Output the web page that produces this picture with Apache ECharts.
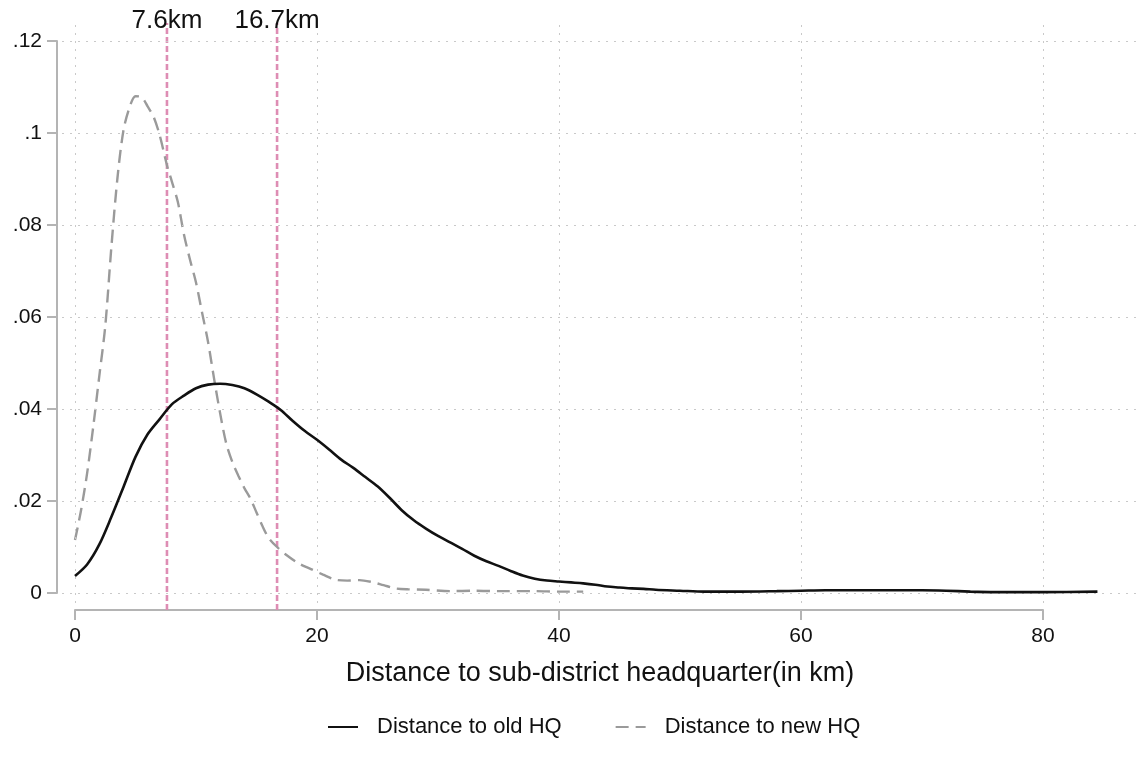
<!DOCTYPE html>
<html><head><meta charset="utf-8">
<script src="https://cdn.jsdelivr.net/npm/echarts@6/dist/echarts.min.js"></script>
<style>html,body{margin:0;padding:0;background:#fff}#c{width:1140px;height:757px}</style>
</head><body><div id="c"></div><script>
// ---- data ----
const oldX = [0,1,2,3,4,5,6,7,8,9,10,11,12,13,14,15,16,17,18,19,20,21,22,23,24,25,26,27,28,29,30,31,32,33,34,35,36,37,38,39,40,41,42,43,44,45,46,47,48,50,52,55,58,60,62,65,68,70,72,74,76,80,84.5];
const oldY = [.0037,.0062,.0105,.0165,.0230,.0296,.0345,.0378,.0410,.0429,.0445,.0453,.0455,.0452,.0445,.0432,.0416,.0398,.0374,.0352,.0333,.0312,.0290,.0272,.0252,.0232,.0207,.0180,.0158,.0140,.0124,.0110,.0096,.0081,.0069,.0059,.0048,.0038,.0031,.0027,.0025,.0023,.0021,.0018,.0014,.0012,.0010,.0009,.0007,.0005,.0003,.0003,.0004,.0005,.0006,.0006,.0006,.0006,.0005,.0003,.0002,.0002,.0003];
const newX = [0,0.5,1,1.5,2,2.5,3,3.5,4,4.5,5,5.5,6,6.5,7,7.6,8,8.5,9,9.5,10,10.5,11,11.5,12,12.5,13,13.5,14,14.5,15,15.5,16,16.7,17.5,18.5,19.5,20.5,21.5,22.5,23.5,24.5,25.5,26.5,27.5,29,31,33,35,38,40,42];
const newY = [.0115,.018,.026,.036,.047,.058,.075,.090,.1005,.1055,.1080,.1078,.1058,.1035,.0995,.093,.0895,.085,.078,.0725,.0675,.061,.0545,.0465,.039,.0325,.0285,.0255,.0228,.0205,.0175,.0145,.012,.0100,.0082,.0064,.0052,.0040,.0029,.0027,.0028,.0024,.0017,.0010,.0008,.0007,.0004,.0005,.0004,.0004,.0003,.0003];
const xTicks = [0,20,40,60,80];
const xTickLabels = ['0','20','40','60','80'];
const yTicks = [0,0.02,0.04,0.06,0.08,0.10,0.12];
const yTickLabels = ['0','.02','.04','.06','.08','.1','.12'];
const refX = [7.6,16.7];
const refLabels = ['7.6km','16.7km'];
const seriesNames = ['Distance to old HQ','Distance to new HQ'];
const xTitle = 'Distance to sub-district headquarter(in km)';

// ---- layout (pixels) ----
const PLOT = {left:62, right:1138, top:23, bottom:603};
const AXIS = {left:75, right:1043, top:41, bottom:593};
const AXLINE = {x:57, y:610};
const REF_BOTTOM_PX = 610;
const kx = 80/(AXIS.right-AXIS.left);
const ky = 0.12/(AXIS.bottom-AXIS.top);
const xMin0 = -(AXIS.left-PLOT.left)*kx;
const xMax0 = 80 + (PLOT.right-AXIS.right)*kx;
const yMin0 = -(PLOT.bottom-AXIS.bottom)*ky;
const yMax0 = 0.12 + (AXIS.top-PLOT.top)*ky;
const yRefBot = -(REF_BOTTOM_PX-AXIS.bottom)*ky;

const FONT = '"Liberation Sans", Arial, Helvetica, sans-serif';
const AX = '#b4b4b4';
const PINK = '#de8db4';
const TXT = '#111111';

const zip = (xs, ys) => xs.map((x,i)=>[x, ys[i]]);
const idx = (arr, v) => arr.findIndex(t => Math.abs(t - v) < 1e-9);

const chart = echarts.init(document.getElementById('c'), null, {renderer:'canvas'});
const series = [
  { type:'line', xAxisIndex:0, yAxisIndex:0, data:[], silent:true, symbol:'none',
    markLine:{ silent:true, symbol:['none','none'], label:{show:false}, animation:false,
      lineStyle:{color:'#c9c9c9', type:[2,6], width:1},
      emphasis:{disabled:true},
      data:[...xTicks.map(v=>({xAxis:v})), ...yTicks.map(v=>({yAxis:v}))] } },
  ...refX.map(x => ({ type:'line', xAxisIndex:0, yAxisIndex:0, silent:true, symbol:'none', clip:false, z:3,
      data:[[x,yRefBot],[x,yMax0]], lineStyle:{color:PINK, width:2.6, type:[6,3]} })),
  { type:'scatter', xAxisIndex:0, yAxisIndex:0, silent:true, clip:false, symbolSize:1, z:6,
    itemStyle:{color:'rgba(255,255,255,0)', opacity:1},
    label:{show:true, position:'inside', offset:[0,-2], fontSize:26, color:TXT, fontFamily:FONT,
      textBorderWidth:0, opacity:1},
    data: refX.map((x,i)=>({value:[x,yMax0], label:{formatter:refLabels[i], color:TXT}})) },
  { type:'line', name:seriesNames[0], xAxisIndex:0, yAxisIndex:0, data:zip(oldX,oldY), smooth:0.3,
    symbol:'none', z:5, lineStyle:{color:'#111', width:2.6}, itemStyle:{color:'#111'} },
  { type:'line', name:seriesNames[1], xAxisIndex:0, yAxisIndex:0, data:zip(newX,newY), smooth:0.3,
    symbol:'none', z:4, lineStyle:{color:'#9a9a9a', width:2.4, type:[13,7]}, itemStyle:{color:'#9a9a9a'} }
];

chart.setOption({
  animation:false,
  backgroundColor:'#fff',
  textStyle:{fontFamily:FONT},
  grid:[
    {left:PLOT.left, top:PLOT.top, width:PLOT.right-PLOT.left, height:PLOT.bottom-PLOT.top, outerBoundsMode:'none', containLabel:false},
    {left:AXIS.left, top:AXIS.top, width:AXIS.right-AXIS.left, height:AXIS.bottom-AXIS.top, outerBoundsMode:'none', containLabel:false}
  ],
  xAxis:[
    {gridIndex:0, type:'value', min:xMin0, max:xMax0,
     axisLine:{show:false, onZero:false}, axisTick:{show:false}, axisLabel:{show:false}, splitLine:{show:false},
     name:xTitle, nameLocation:'middle', nameGap:57,
     nameTextStyle:{fontSize:27, color:TXT, fontFamily:FONT}},
    {gridIndex:1, type:'value', min:0, max:80, interval:20, position:'bottom', offset:AXLINE.y-AXIS.bottom,
     axisLine:{show:true, onZero:false, lineStyle:{color:AX, width:2}},
     axisTick:{show:true, length:10, lineStyle:{color:AX, width:2}},
     axisLabel:{fontSize:21, color:TXT, margin:16, fontFamily:FONT, formatter:v=>xTickLabels[idx(xTicks,v)]},
     splitLine:{show:false}}
  ],
  yAxis:[
    {gridIndex:0, type:'value', min:yMin0, max:yMax0, show:false, axisLine:{onZero:false}},
    {gridIndex:1, type:'value', min:0, max:0.12, interval:0.02, position:'left', offset:AXIS.left-AXLINE.x,
     axisLine:{show:true, onZero:false, lineStyle:{color:AX, width:2}},
     axisTick:{show:true, length:10, lineStyle:{color:AX, width:2}},
     axisLabel:{fontSize:21, color:TXT, margin:15, fontFamily:FONT, formatter:v=>yTickLabels[idx(yTicks,v)]},
     splitLine:{show:false}}
  ],
  legend:{ data:seriesNames, left:327, top:716, padding:0, itemWidth:30, itemHeight:14, itemGap:53,
    itemStyle:{opacity:0, borderWidth:0},
    textStyle:{fontSize:22, color:TXT, fontFamily:FONT, padding:[0,0,0,14]}, selectedMode:false },
  series
});
</script></body></html>
